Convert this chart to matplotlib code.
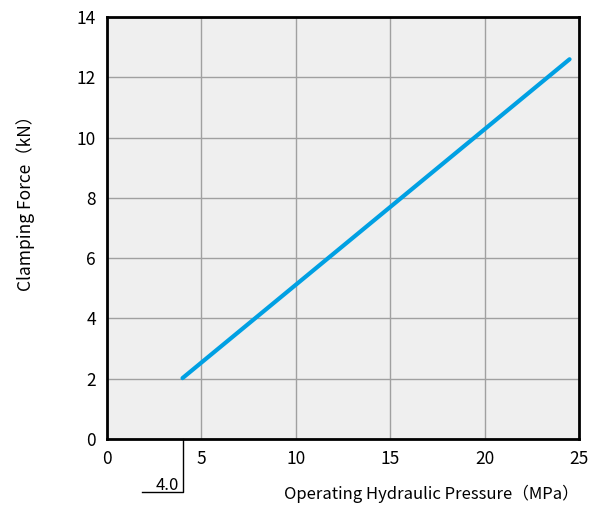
import numpy as np
import matplotlib.pyplot as plt

plt.rcParams['font.family'] = ['Noto Sans CJK JP', 'DejaVu Sans']

# データ
pressure = [4.0, 24.5]
force = [2.02, 12.6]
x_ticks = [0, 5, 10, 15, 20, 25]
y_ticks = [0, 2, 4, 6, 8, 10, 12, 14]
min_pressure = 4.0

fig = plt.figure(figsize=(5.99, 5.09), dpi=100)
ax = fig.add_axes([0.1786, 0.1375, 0.788, 0.829])
ax.set_facecolor('#efefef')

ax.plot(pressure, force, color='#00a0e3', linewidth=3, solid_capstyle='round', zorder=3)

ax.set_xlim(0, 25)
ax.set_ylim(0, 14)
ax.set_xticks(x_ticks)
ax.set_yticks(y_ticks)
ax.tick_params(length=0, labelsize=12.5, pad=8)
ax.grid(True, color='#a0a0a0', linewidth=1)
for s in ax.spines.values():
    s.set_linewidth(2)
    s.set_color('black')

fig.text(0.966, 0.03, 'Operating Hydraulic Pressure（MPa）', fontsize=12,
         ha='right', va='center')
fig.text(0.042, 0.61, 'Clamping Force（kN）', fontsize=12.5, rotation=90,
         ha='center', va='center')

# 最低圧力の注記
ax.plot([min_pressure, min_pressure, 1.85], [0, -1.76, -1.76], color='black',
        linewidth=1, clip_on=False)
ax.text(min_pressure - 0.2, -1.82, f'{min_pressure:.1f}', ha='right', va='bottom', fontsize=12)

fig.savefig('out.png', dpi=100)
